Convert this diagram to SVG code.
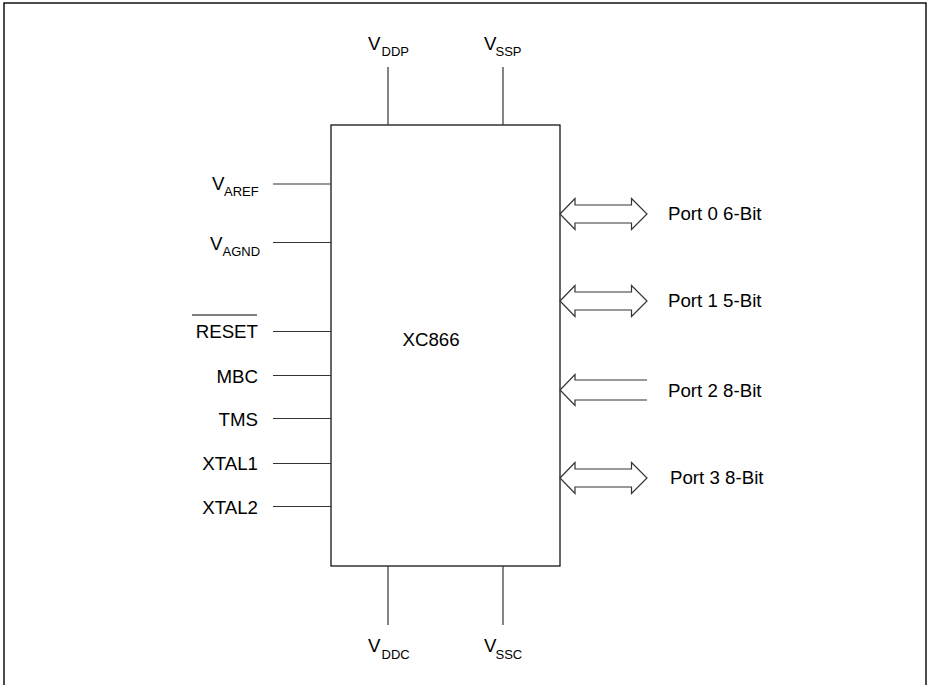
<svg xmlns="http://www.w3.org/2000/svg" width="927" height="685" viewBox="0 0 927 685">
<style>
text{font-family:"Liberation Sans",Arial,sans-serif;font-size:18.7px;fill:#000}
.sub{font-size:13px}
.pin{stroke:#333;stroke-width:1.2;fill:none}
.bus{stroke:#333;stroke-width:1.2;fill:#fff}
</style>
<rect x="4" y="3" width="922" height="690" fill="#fff" stroke="#000" stroke-width="1.4"/>
<g id="chip">
<rect x="331" y="125" width="229" height="441" fill="#fff" stroke="#000" stroke-width="1.2"/>
<text x="431" y="346" text-anchor="middle">XC866</text>
</g>
<g id="connectors">
<line class="pin" x1="388" y1="67" x2="388" y2="125"/>
<line class="pin" x1="503" y1="67" x2="503" y2="125"/>
<line class="pin" x1="388" y1="566" x2="388" y2="625"/>
<line class="pin" x1="503" y1="566" x2="503" y2="625"/>
<line class="pin" x1="273" y1="184" x2="331" y2="184"/>
<line class="pin" x1="273" y1="242.5" x2="331" y2="242.5"/>
<line class="pin" x1="273" y1="331.5" x2="331" y2="331.5"/>
<line class="pin" x1="273" y1="375.5" x2="331" y2="375.5"/>
<line class="pin" x1="273" y1="418.5" x2="331" y2="418.5"/>
<line class="pin" x1="273" y1="463.5" x2="331" y2="463.5"/>
<line class="pin" x1="273" y1="506.5" x2="331" y2="506.5"/>
<polygon class="bus" points="560,214 575,198.5 575,205 631.5,205 631.5,198.5 647,214 631.5,229.5 631.5,223 575,223 575,229.5"/>
<polygon class="bus" points="560,301 575,285.5 575,292 631.5,292 631.5,285.5 647,301 631.5,316.5 631.5,310 575,310 575,316.5"/>
<path class="bus" d="M647,380 H575 V374.5 L560,390 L575,405.5 V400 H647"/>
<polygon class="bus" points="560,478 575,462.5 575,469 631.5,469 631.5,462.5 647,478 631.5,493.5 631.5,487 575,487 575,493.5"/>
</g>
<g id="vddp"><text x="368" y="49.5">V</text><text class="sub" x="381.5" y="56">DDP</text></g>
<g id="vssp"><text x="484" y="49.5">V</text><text class="sub" x="495.5" y="56">SSP</text></g>
<g id="vddc"><text x="368" y="652">V</text><text class="sub" x="381.5" y="659">DDC</text></g>
<g id="vssc"><text x="484" y="652">V</text><text class="sub" x="495.5" y="659">SSC</text></g>
<g id="varef"><text x="212" y="189.5">V</text><text class="sub" x="224" y="196">AREF</text></g>
<g id="vagnd"><text x="210" y="249.5">V</text><text class="sub" x="222.5" y="255.5">AGND</text></g>
<g id="reset"><text x="258" y="337.5" text-anchor="end">RESET</text><line x1="192" y1="315" x2="257" y2="315" stroke="#000" stroke-width="1.2"/></g>
<g id="mbc"><text x="258" y="382.5" text-anchor="end">MBC</text></g>
<g id="tms"><text x="258" y="425.5" text-anchor="end">TMS</text></g>
<g id="xtal1"><text x="258" y="470" text-anchor="end">XTAL1</text></g>
<g id="xtal2"><text x="258" y="513.5" text-anchor="end">XTAL2</text></g>
<g id="port0"><text x="668" y="220">Port 0 6-Bit</text></g>
<g id="port1"><text x="668" y="307">Port 1 5-Bit</text></g>
<g id="port2"><text x="668" y="396.5">Port 2 8-Bit</text></g>
<g id="port3"><text x="670" y="484">Port 3 8-Bit</text></g>
</svg>
